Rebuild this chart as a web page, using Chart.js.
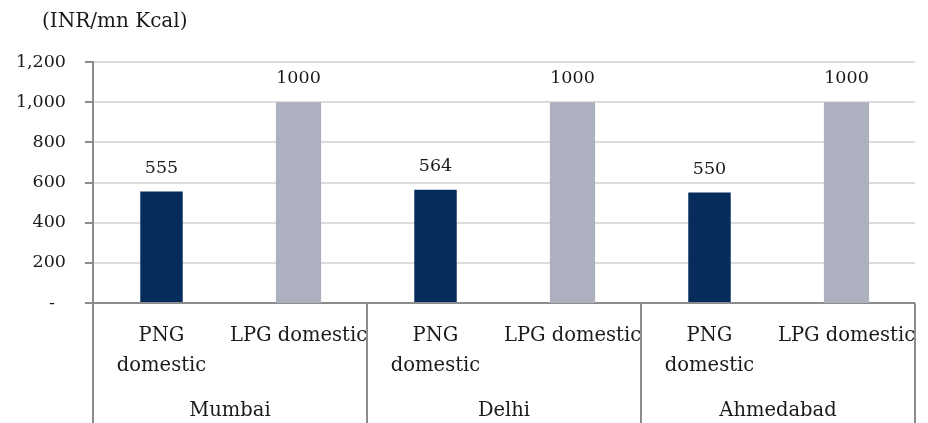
<!DOCTYPE html>
<html>
<head>
<meta charset="utf-8">
<script src="https://cdn.jsdelivr.net/npm/chart.js@4/dist/chart.umd.min.js"></script>
<style>
  html, body { margin: 0; padding: 0; background: #ffffff; }
  #wrap { width: 928px; height: 423px; }
</style>
</head>
<body>
<div id="wrap"><canvas id="c" width="928" height="423"></canvas></div>
<script>
// Domestic fuel cost per city, INR per million Kcal
const cities = ['Mumbai', 'Delhi', 'Ahmedabad'];
const fuelLabels = [['PNG', 'domestic'], 'LPG domestic'];
const pngValues = [555, 564, 550];
const lpgValues = [1000, 1000, 1000];
const yMin = 0;
const yMax = 1200;
const yStep = 200;
const unitLabel = '(INR/mn Kcal)';

const FONT = "'DejaVu Serif', 'Liberation Serif', serif";
const TEXT = '#1a1a1a';
const AXIS = '#8c8c8c';

// Two bars per city: PNG then LPG
const labels = cities.flatMap(() => fuelLabels);
const pngData = cities.flatMap((_, i) => [pngValues[i], null]);
const lpgData = cities.flatMap((_, i) => [null, lpgValues[i]]);

const unitTitle = {
  id: 'unitTitle',
  afterDraw(chart) {
    const ctx = chart.ctx;
    ctx.save();
    ctx.font = "20px " + FONT;
    ctx.fillStyle = TEXT;
    ctx.textAlign = 'left';
    ctx.textBaseline = 'middle';
    ctx.fillText(unitLabel, 42, 22);
    ctx.restore();
  }
};

const valueLabels = {
  id: 'valueLabels',
  afterDatasetsDraw(chart) {
    const ctx = chart.ctx;
    ctx.save();
    ctx.font = "17.5px " + FONT;
    ctx.fillStyle = TEXT;
    ctx.textAlign = 'center';
    ctx.textBaseline = 'alphabetic';
    chart.data.datasets.forEach((ds, di) => {
      const meta = chart.getDatasetMeta(di);
      meta.data.forEach((el, i) => {
        const v = ds.data[i];
        if (v === null || v === undefined) return;
        ctx.fillText(String(v), el.x, el.y - 19);
      });
    });
    ctx.restore();
  }
};

// Separators between city groups, running through both label rows
const groupDividers = {
  id: 'groupDividers',
  afterDraw(chart) {
    const x = chart.scales.x;
    const ctx = chart.ctx;
    const top = chart.chartArea.bottom;
    const bottom = chart.height;
    ctx.save();
    ctx.strokeStyle = AXIS;
    ctx.lineWidth = 2;
    for (let g = 0; g <= cities.length; g++) {
      const px = Math.round(x.getPixelForValue(g * fuelLabels.length - 0.5));
      ctx.beginPath();
      ctx.moveTo(px, top);
      ctx.lineTo(px, bottom);
      ctx.stroke();
    }
    ctx.restore();
  }
};

new Chart(document.getElementById('c'), {
  type: 'bar',
  data: {
    labels: labels,
    datasets: [
      {
        label: 'PNG domestic',
        data: pngData,
        backgroundColor: '#062c5c',
        grouped: false,
        barPercentage: 0.31,
        categoryPercentage: 1
      },
      {
        label: 'LPG domestic',
        data: lpgData,
        backgroundColor: '#adb0bf',
        grouped: false,
        base: -20,
        barPercentage: 0.33,
        categoryPercentage: 1
      }
    ]
  },
  options: {
    responsive: false,
    animation: false,
    devicePixelRatio: 1,
    layout: { padding: { top: 62, left: 14, right: 13, bottom: 0 } },
    plugins: {
      legend: { display: false },
      tooltip: { enabled: false },
      title: { display: false }
    },
    scales: {
      y: {
        min: yMin,
        max: yMax,
        afterFit: (s) => { s.width = 79; },
        border: { display: true, color: AXIS, width: 2 },
        grid: {
          color: (c) => (c.tick && c.tick.value === 0 ? AXIS : '#dcdcdc'),
          lineWidth: 2,
          tickColor: AXIS,
          tickLength: 8,
          drawTicks: true
        },
        ticks: {
          stepSize: yStep,
          padding: 19,
          color: TEXT,
          font: { family: FONT, size: 17.5 },
          callback: (v) => (v === 0 ? '-  ' : Number(v).toLocaleString('en-US'))
        }
      },
      x: {
        position: 'bottom',
        offset: true,
        afterFit: (s) => { s.height = 76; s.paddingLeft = 0; s.paddingRight = 0; },
        border: { display: false },
        grid: { display: false },
        ticks: {
          autoSkip: false,
          maxRotation: 0,
          minRotation: 0,
          padding: 10,
          color: TEXT,
          font: { family: FONT, size: 19.5, lineHeight: 1.55 }
        }
      },
      x2: {
        type: 'category',
        position: 'bottom',
        labels: cities,
        offset: true,
        afterFit: (s) => { s.height = 44; s.paddingLeft = 0; s.paddingRight = 0; },
        border: { display: false },
        grid: { display: false },
        ticks: {
          autoSkip: false,
          maxRotation: 0,
          minRotation: 0,
          padding: 9,
          color: TEXT,
          font: { family: FONT, size: 19.5, lineHeight: 1.55 }
        }
      }
    }
  },
  plugins: [unitTitle, valueLabels, groupDividers]
});
</script>
</body>
</html>
